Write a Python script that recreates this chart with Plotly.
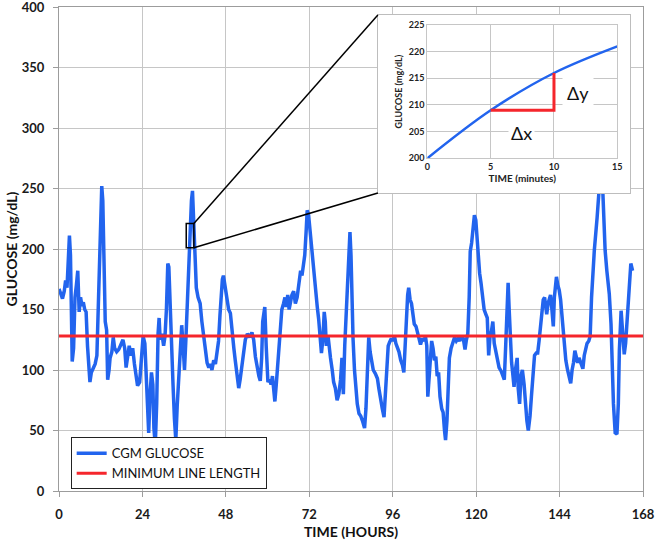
import plotly.graph_objects as go

# CGM trace (hours, mg/dL)
cgm_hours = [
    0.0, 0.4, 1.0, 1.5, 1.9, 2.3, 2.6, 3.0, 3.3, 3.6, 3.8, 4.2, 4.6, 5.0, 5.4, 5.8,
    6.2, 6.6, 7.0, 7.4, 7.8, 8.2, 8.5, 8.9, 9.3, 9.9, 10.4, 10.9, 11.2, 11.5, 11.9,
    12.3, 12.6, 12.9, 13.3, 13.7, 14.0, 14.4, 14.7, 15.2, 15.6, 16.0, 16.6, 17.2,
    17.8, 18.4, 18.9, 19.3, 19.8, 20.2, 20.7, 21.2, 21.7, 22.2, 22.6, 23.2, 23.7,
    24.2, 24.7, 25.1, 25.5, 25.8, 26.2, 26.6, 27.0, 27.3, 27.7, 28.1, 28.5, 28.8,
    29.1, 29.6, 30.1, 30.5, 30.9, 31.3, 31.6, 31.9, 32.3, 32.8, 33.2, 33.6, 34.0,
    34.4, 34.8, 35.3, 35.7, 36.1, 36.5, 36.9, 37.3, 37.7, 38.1, 38.4, 38.7, 39.0,
    39.5, 40.0, 40.6, 41.1, 41.6, 42.1, 42.6, 43.1, 43.6, 44.0, 44.5, 45.0, 45.5,
    45.9, 46.3, 46.6, 47.0, 47.3, 47.7, 48.3, 48.8, 49.3, 49.8, 50.3, 50.7, 51.2,
    51.7, 52.1, 52.6, 53.1, 53.6, 54.2, 54.8, 55.5, 56.0, 56.5, 57.0, 57.5, 57.9,
    58.3, 58.6, 58.9, 59.2, 59.6, 60.1, 60.6, 61.0, 61.4, 61.8, 62.1, 62.5, 62.8,
    63.3, 63.7, 64.1, 64.6, 65.0, 65.4, 65.8, 66.2, 66.6, 67.0, 67.5, 68.0, 68.5,
    69.0, 69.5, 69.9, 70.3, 70.7, 71.1, 71.4, 71.8, 72.2, 72.8, 73.3, 73.8, 74.3,
    74.7, 75.1, 75.5, 75.9, 76.3, 76.6, 76.9, 77.4, 77.8, 78.1, 78.6, 79.0, 79.5,
    80.0, 80.5, 81.0, 81.4, 81.8, 82.2, 82.6, 83.0, 83.4, 83.7, 84.0, 84.3, 84.6,
    85.0, 85.3, 85.8, 86.3, 86.8, 87.3, 87.6, 87.9, 88.3, 88.7, 89.1, 89.5, 89.9,
    90.4, 91.0, 91.6, 92.0, 92.5, 93.0, 93.5, 93.9, 94.3, 94.7, 95.1, 95.6, 96.0,
    96.5, 96.9, 97.4, 97.8, 98.3, 98.8, 99.2, 99.6, 99.9, 100.3, 100.6, 101.0,
    101.4, 101.8, 102.2, 102.7, 103.2, 103.6, 104.0, 104.5, 105.0, 105.4, 105.8,
    106.1, 106.4, 106.8, 107.2, 107.6, 108.0, 108.4, 108.8, 109.2, 109.6, 110.1,
    110.5, 110.9, 111.2, 111.6, 112.0, 112.3, 112.8, 113.3, 113.8, 114.3, 114.8,
    115.3, 115.8, 116.3, 116.8, 117.2, 117.6, 118.0, 118.3, 118.7, 119.1, 119.5,
    119.9, 120.2, 120.6, 121.0, 121.4, 121.8, 122.3, 122.8, 123.2, 123.6, 124.0,
    124.4, 124.8, 125.2, 125.6, 126.1, 126.6, 127.2, 127.7, 128.1, 128.5, 128.9,
    129.2, 129.5, 129.8, 130.2, 130.6, 130.9, 131.3, 131.8, 132.1, 132.5, 132.9,
    133.3, 133.8, 134.2, 134.6, 135.0, 135.5, 135.9, 136.3, 136.8, 137.3, 137.7,
    138.1, 138.5, 138.9, 139.3, 139.7, 140.0, 140.3, 140.7, 141.0, 141.4, 141.8,
    142.2, 142.5, 142.8, 143.1, 143.5, 143.9, 144.3, 144.6, 145.0, 145.3, 145.8,
    146.3, 146.8, 147.2, 147.6, 148.0, 148.4, 148.8, 149.2, 149.6, 150.0, 150.4,
    150.7, 151.1, 151.5, 151.9, 152.4, 152.8, 153.2, 153.6, 154.0, 154.8, 155.4,
    155.8, 156.3, 156.7, 157.1, 157.6, 158.3, 158.8, 159.1, 159.5, 160.0, 160.5,
    160.9, 161.2, 161.7, 162.0, 162.3, 162.6, 163.0, 163.6, 164.0, 164.5, 165.0,
]
cgm_glucose = [
    167, 163, 159, 165, 174, 168, 185, 211, 195, 150, 107, 118, 160, 170, 182, 148,
    160, 153, 156, 150, 148, 120, 105, 90, 98, 102, 105, 112, 140, 185, 215,
    252, 240, 205, 140, 133, 92, 100, 110, 115, 127, 118, 115, 117,
    122, 125, 118, 102, 112, 120, 112, 118, 105, 92, 87, 90, 110,
    128, 122, 90, 55, 48, 80, 98, 88, 52, 38, 72, 130, 143,
    125, 130, 120, 128, 150, 188, 185, 160, 110, 88, 60, 42, 70,
    95, 110, 137, 120, 100, 125, 158, 182, 218, 240, 248, 228, 200,
    168, 160, 155, 140, 128, 115, 106, 102, 105, 100, 108, 105, 115,
    124, 145, 160, 175, 178, 170, 160, 150, 147, 130, 118, 108, 95,
    85, 92, 102, 112, 125, 130, 127, 131, 125, 111, 102, 95, 91,
    110, 140, 150, 152, 120, 90, 92, 88, 95, 80, 74, 88, 100,
    125, 135, 150, 155, 160, 152, 162, 150, 158, 162, 165, 155, 160,
    172, 182, 178, 185, 195, 215, 232, 228, 215, 200, 185, 168, 152,
    142, 125, 114, 125, 148, 140, 120, 128, 115, 110, 100, 90, 85,
    75, 80, 92, 110, 80, 120, 150, 178, 205, 214, 195, 150, 125,
    100, 86, 72, 64, 62, 58, 55, 52, 68, 100, 127, 115, 106,
    100, 97, 93, 85, 75, 68, 61, 80, 105, 120, 123, 126, 124,
    128, 122, 118, 115, 108, 104, 98, 125, 150, 162, 168, 158,
    155, 145, 138, 136, 130, 125, 121, 126, 124, 128, 120,
    78, 90, 105, 124, 118, 108, 111, 95, 98, 78, 68,
    65, 50, 42, 58, 95, 110, 118, 122, 127, 124, 126,
    124, 128, 126, 117, 125, 130, 160, 198, 205, 218, 228,
    224, 210, 190, 180, 172, 160, 150, 146, 143, 112, 128,
    132, 140, 122, 116, 108, 102, 99, 96, 92, 120, 150,
    172, 150, 122, 106, 95, 86, 100, 110, 85, 72, 95,
    100, 88, 72, 58, 50, 62, 78, 92, 112, 114, 114,
    124, 135, 145, 158, 160, 152, 146, 155, 159, 162, 150,
    136, 160, 172, 177, 170, 166, 158, 148, 135, 122, 108,
    100, 95, 89, 100, 106, 116, 112, 106, 110, 106, 102,
    101, 112, 118, 122, 124, 128, 160, 185, 199, 226, 254,
    266, 258, 230, 199, 182, 163, 138, 102, 72, 48, 47,
    72, 116, 149, 138, 120, 113, 122, 149, 171, 188, 182,
]

min_line_hours = [0, 168]
min_line_glucose = [128, 128]

hour_ticks = [0, 24, 48, 72, 96, 120, 144, 168]
glucose_ticks = [0, 50, 100, 150, 200, 250, 300, 350, 400]

# 15-minute window that the inset magnifies
zoom_hours = [36.6, 38.8]
zoom_glucose = [201, 221]

# inset data (minutes, mg/dL)
inset_minutes = [0, 5, 10, 15]
inset_glucose = [200, 209, 216, 221]
delta_minutes = [5, 10, 10]
delta_glucose = [209, 209, 216]

BLUE = "#2264ee"
RED = "#f5262c"
FONT = "Lato"

# paper domains
frame_x = [0.546, 0.978]
frame_y = [0.6157, 0.9835]
inset_x = [0.6307, 0.956]
inset_y = [0.6874, 0.9628]

fig = go.Figure()

fig.add_trace(go.Scatter(
    x=cgm_hours, y=cgm_glucose, mode="lines", name="CGM GLUCOSE",
    line=dict(color=BLUE, width=3.5), xaxis="x", yaxis="y"))
fig.add_trace(go.Scatter(
    x=min_line_hours, y=min_line_glucose, mode="lines", name="MINIMUM LINE LENGTH",
    line=dict(color=RED, width=3), xaxis="x", yaxis="y"))

# empty trace so the frame subplot exists (it paints a white background over the main plot)
fig.add_trace(go.Scatter(x=[0.5], y=[0.5], mode="markers", marker=dict(opacity=0),
                         showlegend=False, hoverinfo="skip", xaxis="x2", yaxis="y2"))

fig.add_trace(go.Scatter(
    x=inset_minutes, y=inset_glucose, mode="lines", line=dict(color=BLUE, width=2.5, shape="spline"),
    showlegend=False, xaxis="x3", yaxis="y3"))
fig.add_trace(go.Scatter(
    x=delta_minutes, y=delta_glucose, mode="lines", line=dict(color=RED, width=3),
    showlegend=False, xaxis="x3", yaxis="y3"))

grid = "#c6c6c6"
axis_line = "#9c9c9c"
tickfont = dict(family=FONT, size=13, color="#1a1a1a", weight="bold")

fig.update_layout(
    width=657, height=542,
    template="none",
    paper_bgcolor="white", plot_bgcolor="white",
    margin=dict(l=59, r=14, t=7, b=51),
    font=dict(family=FONT, color="#111"),
    showlegend=True,
    legend=dict(x=0.02, y=0.111, xanchor="left", yanchor="top",
                bgcolor="white", bordercolor="#222", borderwidth=1,
                font=dict(family=FONT, size=13, color="#111"),
                itemwidth=30, tracegroupgap=0),
    xaxis=dict(domain=[0, 1], range=[0, 168], tickvals=hour_ticks,
               showgrid=True, gridcolor=grid, gridwidth=1,
               showline=True, linecolor=axis_line, mirror=True,
               ticks="outside", ticklen=5, tickcolor=axis_line,
               tickfont=tickfont, ticklabelstandoff=6, zeroline=False,
               ticklabeloverflow="allow",
               title=dict(text="TIME (HOURS)", standoff=6,
                          font=dict(family=FONT, size=14, color="#111", weight="bold"))),
    yaxis=dict(domain=[0, 1], range=[0, 400], tickvals=glucose_ticks,
               showgrid=True, gridcolor=grid, gridwidth=1,
               showline=True, linecolor=axis_line, mirror=True,
               ticks="outside", ticklen=5, tickcolor=axis_line,
               tickfont=tickfont, ticklabelstandoff=6, zeroline=False,
               ticklabeloverflow="allow",
               title=dict(text="GLUCOSE (mg/dL)", standoff=0,
                          font=dict(family=FONT, size=14, color="#111", weight="bold"))),
    xaxis2=dict(domain=frame_x, range=[0, 1], anchor="y2", showgrid=False,
                showticklabels=False, zeroline=False, showline=True,
                linecolor="#bdbdbd", linewidth=1, mirror=True, ticks=""),
    yaxis2=dict(domain=frame_y, range=[0, 1], anchor="x2", showgrid=False,
                showticklabels=False, zeroline=False, showline=True,
                linecolor="#bdbdbd", linewidth=1, mirror=True, ticks=""),
    xaxis3=dict(domain=inset_x, range=[0, 15], dtick=5, anchor="y3",
                showgrid=True, gridcolor=grid, showline=True, linecolor=grid, mirror=True,
                zeroline=False, ticks="",
                tickfont=dict(family=FONT, size=9, color="#222", weight="bold"),
                title=dict(text="TIME (minutes)", standoff=2,
                           font=dict(family=FONT, size=10, color="#222", weight="bold"))),
    yaxis3=dict(domain=inset_y, range=[200, 225], dtick=5, anchor="x3",
                showgrid=True, gridcolor=grid, showline=True, linecolor=grid, mirror=True,
                zeroline=False, ticks="",
                tickfont=dict(family=FONT, size=9, color="#222", weight="bold"),
                title=dict(text="GLUCOSE (mg/dL)", standoff=4,
                           font=dict(family=FONT, size=9, color="#222", weight="bold"))),
)

# box around the magnified window
fig.add_shape(type="rect", xref="x", yref="y",
              x0=zoom_hours[0], x1=zoom_hours[1], y0=zoom_glucose[0], y1=zoom_glucose[1],
              line=dict(color="black", width=1.5))

# connector lines from the window to the inset frame
frame_left_hours = frame_x[0] * 168
fig.add_shape(type="line", xref="x", yref="y",
              x0=zoom_hours[1], y0=zoom_glucose[1], x1=frame_left_hours, y1=frame_y[1] * 400,
              line=dict(color="black", width=1.5))
fig.add_shape(type="line", xref="x", yref="y",
              x0=zoom_hours[1], y0=zoom_glucose[0], x1=frame_left_hours, y1=frame_y[0] * 400,
              line=dict(color="black", width=1.5))

fig.add_annotation(x=7.4, y=204.8, xref="x3", yref="y3", text="Δx", showarrow=False,
                   font=dict(family=FONT, size=18, color="#111"), bgcolor="white", borderpad=2)
fig.add_annotation(x=11.9, y=212.3, xref="x3", yref="y3", text="Δy", showarrow=False,
                   font=dict(family=FONT, size=18, color="#111"), bgcolor="white", borderpad=4)

# the page's default body margin would push the figure 8px off the window
fig.write_html("out.html", config={"displayModeBar": False},
               post_script="document.body.style.margin = '0';")
